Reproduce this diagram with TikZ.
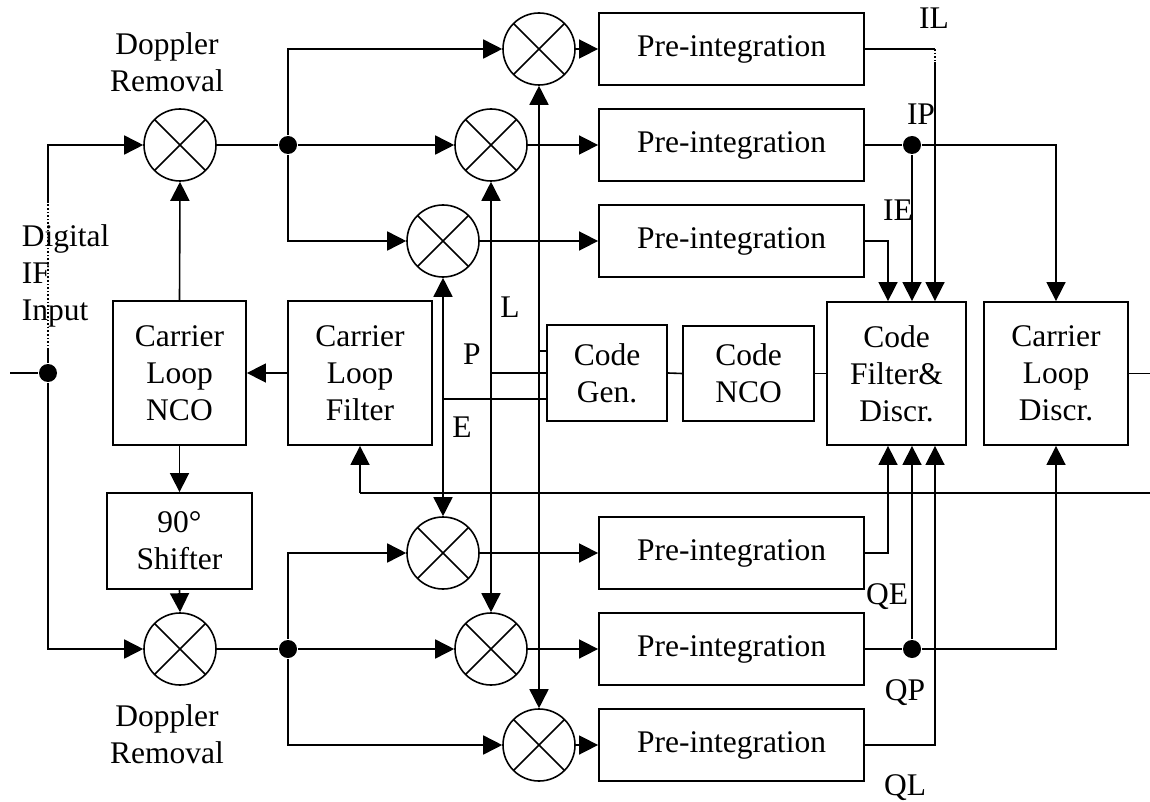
\documentclass[tikz,border=0pt]{standalone}
\usepackage{fontspec}
\setmainfont{Liberation Serif}
\usetikzlibrary{arrows.meta}
\begin{document}
\begin{tikzpicture}[x=1pt,y=-1pt,line width=1.6pt,
  >={Triangle[length=19pt,width=19pt]},
  every node/.style={font=\fontsize{31.5}{37}\selectfont, inner sep=0pt},
  box/.style={draw, line width=1.8pt, align=center},
  pibox/.style={box, minimum width=265pt, minimum height=72pt},
  mixer/.style={circle, draw, line width=1.6pt, minimum size=72pt,
    path picture={\draw[line width=1.6pt] (path picture bounding box.north west) -- (path picture bounding box.south east)
      (path picture bounding box.north east) -- (path picture bounding box.south west);}},
  dot/.style={circle, fill, minimum size=18pt, inner sep=0pt},
  lbl/.style={anchor=base}]
\useasboundingbox (0,0) rectangle (1150,802);

% boxes
\node[box, minimum width=133pt, minimum height=144pt] (NCO) at (179.5,373) {Carrier\\Loop\\NCO};
\node[box, minimum width=144pt, minimum height=144pt] (CLF) at (360,373) {Carrier\\Loop\\Filter};
\node[box, minimum width=145pt, minimum height=96pt] (SH) at (179.5,541) {90°\\Shifter};
\node[box, minimum width=120pt, minimum height=96pt] (CG) at (607,373) {Code\\Gen.};
\node[box, minimum width=131pt, minimum height=95pt] (CN) at (748.5,373.5) {Code\\NCO};
\node[box, minimum width=139pt, minimum height=143pt] (CF) at (896.5,373.5) {Code\\Filter\&\\Discr.};
\node[box, minimum width=144pt, minimum height=143pt] (CD) at (1056,373.5) {Carrier\\Loop\\Discr.};
\node[pibox] (PI1) at (731.5,49) {Pre-integration};
\node[pibox] (PI2) at (731.5,145) {Pre-integration};
\node[pibox] (PI3) at (731.5,241) {Pre-integration};
\node[pibox] (PI4) at (731.5,553) {Pre-integration};
\node[pibox] (PI5) at (731.5,649) {Pre-integration};
\node[pibox] (PI6) at (731.5,745) {Pre-integration};

% mixers
\node[mixer] (DT) at (180,145) {};
\node[mixer] (DB) at (180,649) {};
\node[mixer] (ML) at (539,49) {};
\node[mixer] (MP) at (491,145) {};
\node[mixer] (ME) at (443,241) {};
\node[mixer] (QE) at (443,553) {};
\node[mixer] (QP) at (491,649) {};
\node[mixer] (QL) at (539,745) {};

% junction dots
\node[dot] (jin) at (48,373) {};
\node[dot] (jt) at (288,145) {};
\node[dot] (jb) at (288,649) {};
\node[dot] (dIP) at (912,145) {};
\node[dot] (dQP) at (912,649) {};

% helper coordinates
\coordinate (in) at (10,373);
\coordinate (a1) at (48,350);
\coordinate (a2) at (48,203);
\coordinate (tl) at (48,145);
\coordinate (bl) at (48,649);
\coordinate (eT) at (443,399);
\coordinate (pT) at (491,373);
\coordinate (lT) at (539,351);
\coordinate (ilc) at (935,49);
\coordinate (ilb) at (935,62);
\coordinate (iec) at (888,241);
\coordinate (qec) at (888,553);
\coordinate (qlc) at (935,745);
\coordinate (fbR) at (1150,493);
\coordinate (fbL) at (360,493);
\coordinate (cdo) at (1150,373.5);

% input
\draw (in) -- (jin) -- (a1);
\draw[dotted] (a1) -- (a2);
\draw[->] (a2) -- (tl) -- (DT);
\draw[->] (jin) -- (bl) -- (DB);

% carrier loop
\draw[->] (CLF.west) -- (NCO.east);
\draw[->] (NCO.north) -- (DT.south);
\draw[->] (NCO.south) -- (SH.north);
\draw[->] (SH.south) -- (DB.north);
\draw (fbR) -- (fbL);
\draw[->] (fbL) -- (CLF.south);

% I branch
\draw (DT) -- (jt);
\draw[->] (jt) -- (MP);
\draw[->] (jt) |- (ML);
\draw[->] (jt) |- (ME);
\draw[->] (ML) -- (PI1.west);
\draw[->] (MP) -- (PI2.west);
\draw[->] (ME) -- (PI3.west);

% Q branch
\draw (DB) -- (jb);
\draw[->] (jb) -- (QP);
\draw[->] (jb) |- (QE);
\draw[->] (jb) |- (QL);
\draw[->] (QE) -- (PI4.west);
\draw[->] (QP) -- (PI5.west);
\draw[->] (QL) -- (PI6.west);

% code replicas
\draw[<->] (ME.south) -- (QE.north);
\draw[<->] (MP.south) -- (QP.north);
\draw[<->] (ML.south) -- (QL.north);
\draw (eT) -- (eT -| CG.west);
\draw (pT) -- (pT -| CG.west);
\draw (lT) -- (lT -| CG.west);
\draw (CG.east) -- (CN.west);
\draw (CN.east) -- (CF.west);

% I outputs
\draw (PI1.east) -- (ilc);
\draw[dotted] (ilc) -- (ilb);
\draw[->] (ilb) -- (ilb |- CF.north);
\draw (PI2.east) -- (dIP);
\draw[->] (dIP) -- (dIP |- CF.north);
\draw[->] (dIP) -| (CD.north);
\draw[->] (PI3.east) -- (iec) -- (iec |- CF.north);

% Q outputs
\draw[->] (PI4.east) -- (qec) -- (qec |- CF.south);
\draw (PI5.east) -- (dQP);
\draw[->] (dQP) -- (dQP |- CF.south);
\draw[->] (dQP) -| (CD.south);
\draw[->] (PI6.east) -- (qlc) -- (qlc |- CF.south);
\draw (CD.east) -- (cdo);

% labels
\node[anchor=north, align=center] (lDT) at (167,32) {Doppler\\Removal};
\node[anchor=north, align=center] (lDB) at (167,704) {Doppler\\Removal};
\node[anchor=north west, align=left] (lIF) at (21,223.5) {Digital\\IF\\Input};
\node[lbl] (tIL) at (934,29) {IL};
\node[lbl] (tIP) at (921,125) {IP};
\node[lbl] (tIE) at (898,221) {IE};
\node[lbl] (tQE) at (887,604) {QE};
\node[lbl] (tQP) at (905,700) {QP};
\node[lbl] (tQL) at (905,795) {QL};
\node[lbl] (tL) at (510,317) {L};
\node[lbl] (tP) at (472,364) {P};
\node[lbl] (tE) at (462,437) {E};
\end{tikzpicture}
\end{document}
